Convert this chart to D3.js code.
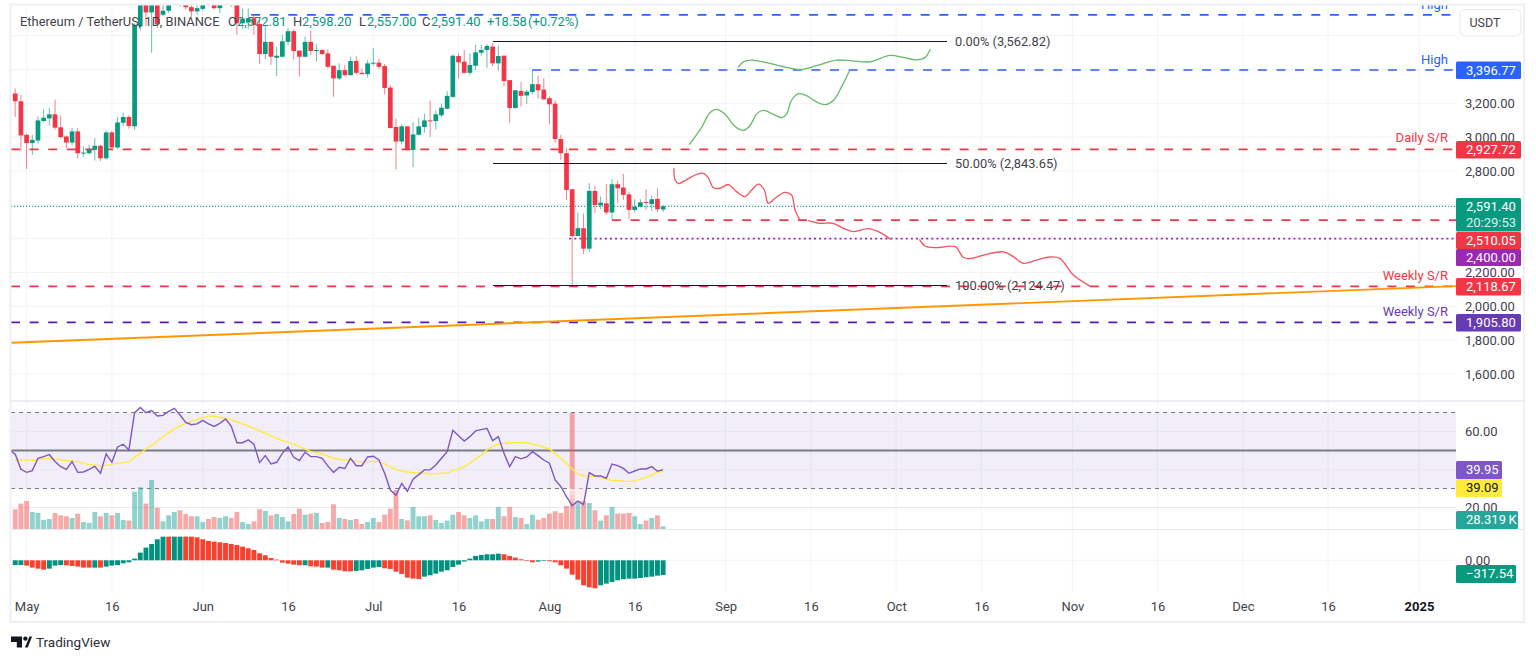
<!DOCTYPE html>
<html><head><meta charset="utf-8">
<script src="https://cdnjs.cloudflare.com/ajax/libs/d3/7.8.5/d3.min.js"></script>
<style>html,body{margin:0;padding:0;background:#fff;overflow:hidden}svg{display:block}text{font-family:Roboto,"Noto Sans",sans-serif}</style>
</head><body><svg id="c" width="1536" height="660"></svg>
<script>
// ---------- values ----------
const firstCandle = "2024-04-29";
const opens = [3258,3212,3014,2965,2980,3095,3111,3135,3058,3004,
2968,3034,2905,2905,2925,2949,2875,3028,2939,3085,
3119,3064,3654,3790,3737,3790,3723,3747,3825,3870,
3790,3768,3743,3758,3840,3790,3762,3800,3830,3800,
3673,3677,3703,3669,3491,3563,3469,3475,3563,3626,
3511,3475,3563,3509,3515,3495,3422,3347,3396,3366,
3450,3380,3372,3436,3440,3420,3293,3060,2974,3064,
2925,3014,3060,3099,3095,3129,3168,3238,3479,3446,
3380,3422,3499,3515,3535,3436,3481,3337,3172,3273,
3246,3267,3313,3281,3230,3198,2989,2905,2692,2416,
2462,2341,2682,2597,2609,2555,2722,2702,2662,2570,
2589,2617,2605,2635,2572.81];
const closes = [3212,3010,2965,2984,3099,3115,3135,3056,3000,2968,
3034,2905,2909,2925,2949,2875,3028,2939,3087,3119,
3066,3663,3820,3737,3785,3667,3747,3790,3860,3840,
3768,3743,3762,3790,3800,3762,3790,3830,3800,3673,
3700,3703,3663,3491,3563,3475,3481,3566,3626,3509,
3475,3563,3509,3515,3491,3416,3347,3396,3366,3450,
3380,3372,3436,3440,3416,3291,3054,2974,3064,2925,
3016,3064,3099,3095,3135,3174,3244,3481,3442,3380,
3426,3501,3515,3539,3436,3479,3331,3172,3277,3244,
3269,3313,3277,3224,3194,2989,2905,2688,2416,2462,
2341,2682,2599,2613,2555,2722,2698,2659,2570,2589,
2615,2613,2633,2574,2591.40];
const highs = [3287,3248,3020,3014,3123,3165,3172,3222,3129,3010,
3056,3054,2945,2955,2994,2955,3040,3036,3119,3145,
3129,3673,3860,3830,3830,3830,3790,3840,3890,3900,
3840,3790,3790,3830,3870,3830,3830,3860,3860,3830,
3760,3760,3720,3690,3663,3565,3535,3604,3644,3638,
3515,3594,3630,3549,3519,3519,3422,3436,3426,3475,
3479,3406,3456,3525,3465,3432,3307,3109,3079,3064,
3089,3115,3139,3218,3159,3198,3271,3489,3495,3515,
3495,3545,3545,3549,3555,3541,3485,3337,3277,3327,
3281,3398,3364,3347,3242,3218,3013,2935,2692,2556,
2550,2728,2712,2649,2722,2752,2742,2783,2678,2633,
2633,2692,2653,2698,2598.20];
const lows = [3119,2921,2812,2895,2961,3089,3069,3044,2992,2935,
2951,2875,2885,2897,2862,2858,2866,2921,2931,3064,
3050,3044,3630,3654,3499,3644,3713,3733,3790,3770,
3753,3709,3723,3745,3775,3755,3733,3780,3770,3604,
3640,3640,3604,3432,3460,3426,3361,3471,3545,3460,
3357,3471,3485,3446,3485,3406,3238,3337,3361,3364,
3368,3372,3353,3422,3402,3252,3050,2810,2957,2921,
2822,3010,3026,3000,3046,3119,3165,3232,3347,3376,
3366,3396,3481,3410,3420,3392,3301,3085,3168,3182,
3196,3254,3228,3218,3079,2968,2866,2629,2118,2416,
2309,2321,2550,2575,2541,2515,2609,2629,2517,2555,
2585,2570,2564,2558,2557.00];
const volumes = [209,269,297,181,170,96,106,170,145,135,
117,163,74,64,181,135,170,145,170,96,
89,396,443,269,520,227,81,145,181,198,
159,135,135,74,106,127,117,135,117,181,
74,53,81,209,191,145,159,127,81,159,
216,152,163,170,64,74,262,117,106,96,
106,53,74,117,74,152,216,414,106,92,
234,135,135,145,96,64,89,152,181,145,
117,145,81,106,106,234,135,234,127,117,
53,152,99,117,163,188,170,244,1230,297,
297,276,198,89,145,234,163,163,170,135,
53,89,117,145,28.319];
// RSI starts one day before the first candle
const rsi = [50.3,48.0,40.1,38.5,39.4,45.9,46.8,47.8,44.2,41.5,40.1,
44.2,38.5,38.7,40.1,41.7,38.0,48.2,43.8,51.9,53.3,
50.3,69.9,72.7,69.9,71.0,68.2,68.5,70.6,72.2,68.7,
64.8,63.6,64.0,65.9,64.0,62.7,64.3,66.6,62.9,54.1,
54.1,55.6,53.3,43.6,47.3,42.9,43.8,48.5,51.9,46.4,
44.7,49.1,46.8,46.8,45.9,41.9,38.4,41.2,40.5,45.9,
42.0,42.0,46.6,47.0,45.0,38.0,29.2,26.4,32.7,28.5,
34.9,37.3,39.8,39.8,42.4,45.9,49.4,60.6,57.8,55.0,
57.3,60.3,61.0,61.7,55.2,57.3,48.5,41.5,46.8,45.6,
46.6,49.4,47.3,45.0,43.3,34.5,31.0,25.7,21.0,23.4,
21.5,38.4,36.6,36.6,35.4,42.9,42.0,40.6,38.0,39.2,
40.3,40.3,41.5,39.1,39.95];
const rsiMA = [45.0,45.0,45.0,44.9,45.0,45.6,45.7,45.6,45.0,44.7,
44.5,44.0,43.3,42.7,42.2,42.0,42.2,42.7,43.3,43.6,
44.0,46.4,48.5,50.8,52.7,54.9,57.3,59.4,61.2,62.9,
64.3,65.4,66.4,67.3,68.2,68.0,67.5,67.0,66.1,65.0,
64.0,62.9,61.7,60.3,59.1,57.7,56.4,55.2,54.3,53.4,
52.0,50.8,49.4,48.9,48.2,47.1,45.9,45.4,45.0,44.9,
44.3,44.0,44.2,44.3,44.0,42.9,41.2,40.1,39.2,38.7,
38.4,38.2,38.0,37.8,37.7,38.0,38.2,39.4,40.3,41.5,
43.3,45.6,47.7,50.3,52.0,53.4,53.8,54.1,54.1,54.3,
54.1,53.4,52.6,51.7,50.8,48.5,45.9,43.3,40.1,37.7,
36.8,36.6,36.3,35.7,34.9,34.3,34.2,33.8,33.6,34.0,
34.9,35.9,37.1,38.5,39.09];
const macdHist = [-101,-101,-115,-158,-180,-202,-180,-115,-101,-108,
-122,-137,-158,-158,-158,-158,-137,-115,-101,-65,
-43,36,166,274,353,454,511,511,511,511,
511,511,497,454,418,403,389,374,353,331,
295,259,223,151,108,50,14,-50,-72,-94,
-108,-108,-130,-137,-158,-158,-202,-216,-238,-238,
-230,-216,-187,-158,-144,-173,-187,-245,-295,-374,
-396,-403,-353,-324,-288,-245,-216,-144,-94,-29,
36,94,115,130,130,144,130,94,58,22,
-14,-43,-29,-14,-22,-43,-108,-180,-310,-418,
-540,-583,-605,-540,-504,-468,-432,-410,-396,-396,
-382,-367,-353,-331,-317.54];
const macdShade = "ttrrrrtttr"+"rrrrtrtttt"+"tttttttrtt"+"rrrrrrrrrr"+"rrrrrrrrrr"+"rtrrrtrrrr"+"tttttrrrrr"+"rrtttttttt"+"ttttttrrrr"+"rrttrrrrrr"+"rrrttttttt"+"ttttt";

const fibLevels = [3562.82, 2843.65, 2124.47];
const fibLabels = ["0.00% (3,562.82)","50.00% (2,843.65)","100.00% (2,124.47)"];
const levelHighTop = 3722.6, levelHigh = 3396.77, levelDaily = 2927.72, levelNear = 2510.05, levelDotted = 2400, levelWeekly = 2118.67, levelWeekly2 = 1905.80, lastPrice = 2591.40;

const priceTicks = [1600,1800,2000,2200,2400,2600,2800,3000,3200,3400];
const priceGrid = [1600,1800,2000,2200,2400,2600,2800,3000,3200,3400,3600];
const timeTicks = ["2024-05-01","2024-05-16","2024-06-01","2024-06-16","2024-07-01","2024-07-16","2024-08-01","2024-08-16","2024-09-01","2024-09-16","2024-10-01","2024-10-16","2024-11-01","2024-11-16","2024-12-01","2024-12-16","2025-01-01"];
const timeLabels = ["May","16","Jun","16","Jul","16","Aug","16","Sep","16","Oct","16","Nov","16","Dec","16","2025"];
const rsiTicks = [60,20];

// trend line: [days after May 1, price]
const trendLine = [[-2.7,1785],[251.5,2120]];
// hand-drawn projections: [days after May 1, price]
const greenA = [[116.6,2956],[118.8,3059],[120.2,3143],[121.4,3164],[122.9,3135],[124.6,3065],[126.1,3040],[127.3,3069],[128.5,3139],[129.6,3158],[131.4,3135],[132.9,3115],[133.7,3135],[134.6,3218],[135.8,3257],[137.3,3244],[139.0,3208],[140.5,3192],[142.0,3218],[143.4,3297],[144.9,3400]];
const greenB = [[125.2,3412],[126.1,3445],[127.6,3455],[130.2,3440],[133.2,3416],[136.1,3400],[139.0,3422],[142.5,3455],[145.2,3451],[148.4,3445],[151.9,3483],[154.3,3471],[156.6,3457],[158.1,3471],[159.0,3519]];
const redA = [[113.9,2816],[114.1,2748],[114.7,2726],[116.1,2748],[117.9,2780],[119.1,2786],[120.0,2757],[120.8,2702],[122.0,2698],[123.5,2720],[124.9,2678],[126.4,2649],[127.6,2688],[128.8,2722],[129.8,2688],[130.5,2609],[131.7,2639],[133.4,2674],[134.6,2658],[135.2,2570],[136.0,2515]];
const redB = [[137.5,2507],[139.6,2491],[141.9,2491],[143.7,2462],[145.5,2442],[148.1,2459],[150.2,2436],[152.0,2396]];
const redC = [[157.1,2396],[158.1,2357],[160.1,2347],[163.4,2353],[164.8,2290],[166.0,2282],[168.9,2308],[171.9,2322],[173.6,2294],[175.4,2255],[177.7,2274],[180.1,2292],[181.8,2284],[184.2,2185],[187.1,2120]];

// ---------- layout ----------
const paneL=11, paneR=1456, frameR=1524, paneT=5, mainB=401, rsiB=529.5, macdB=592.7, frameB=622;
const GREEN="#089981", RED="#f23645", BLUE="#2962ff", GRID="#f2f3f7";
const TEXT="#3f424b";
const svg=d3.select("#c");
const dayMs=864e5, t0=Date.UTC(2024,4,1);
const x=d3.scaleUtc().domain([new Date("2024-05-01"),new Date("2025-01-01")]).range([26.6,1419]);
const xd=n=>x(new Date(t0+n*dayMs));
const candleDate=i=>new Date(new Date(firstCandle).getTime()+i*dayMs);
const y=d3.scaleLinear().domain([1600,3200]).range([374.1,103.3]);
const yR=d3.scaleLinear().domain([0,80]).range([545.5,393.5]);
const yV=d3.scaleLinear().domain([0,1230]).range([529,413]);
const yM=d3.scaleLinear().domain([-700,700]).range([592.7,527.9]);

const defs=svg.append("defs");
const addClip=(id,x0,y0,x1,y1)=>defs.append("clipPath").attr("id",id).append("rect").attr("x",x0).attr("y",y0).attr("width",x1-x0).attr("height",y1-y0);
addClip("cMain",paneL,paneT,paneR,mainB); addClip("cRsi",paneL,mainB+.5,paneR,rsiB); addClip("cMacd",paneL,rsiB,paneR,macdB);
const g0=defs.append("linearGradient").attr("id","fade").attr("x1",0).attr("x2",0).attr("y1",0).attr("y2",1);
g0.append("stop").attr("offset",0).attr("stop-color","#ffe9ea").attr("stop-opacity",.95);
g0.append("stop").attr("offset",1).attr("stop-color","#ffe9ea").attr("stop-opacity",0);

// vertical grid in all panes
const vgrid=svg.append("g").attr("stroke",GRID).attr("stroke-width",1);
timeTicks.forEach(d=>vgrid.append("line").attr("x1",x(new Date(d))).attr("x2",x(new Date(d))).attr("y1",paneT).attr("y2",macdB));

// main pane
const mainPane=svg.append("g").attr("clip-path","url(#cMain)");
mainPane.append("g").selectAll("line").data(priceGrid).join("line").attr("x1",paneL).attr("x2",paneR).attr("y1",d=>y(d)).attr("y2",d=>y(d)).attr("stroke",GRID);

const hline=(v,x0,color,dash,w)=>mainPane.append("line").attr("x1",x0).attr("x2",paneR).attr("y1",y(v)).attr("y2",y(v)).attr("stroke",color).attr("stroke-width",w).attr("stroke-dasharray",dash);
hline(lastPrice,paneL,"#26a69a","1.2,1.8",1.2);
hline(levelHighTop,xd(39.5),BLUE,"9,9.6",1.7);
hline(levelHigh,xd(89),BLUE,"9,9.6",1.7);
hline(levelDaily,paneL,RED,"9,9.6",1.7);
hline(levelNear,xd(103),RED,"9,9.6",1.7);
hline(levelDotted,xd(96)-3,"#9c27b0","2,3.1",1.8);
hline(levelWeekly,paneL,RED,"9,9.6",1.7);
hline(levelWeekly2,paneL,"#5a1ab5","9,9.6",1.7);

// candles
const nBars=opens.length, bw=4.7;
const cg=mainPane.append("g");
d3.range(nBars).forEach(i=>{
  const cx=x(candleDate(i)), up=closes[i]>=opens[i], col=up?GREEN:RED;
  cg.append("line").attr("x1",cx).attr("x2",cx).attr("y1",y(highs[i])).attr("y2",y(lows[i])).attr("stroke",col).attr("stroke-width",1).attr("opacity",.62);
  const a=y(Math.max(opens[i],closes[i])), b=y(Math.min(opens[i],closes[i]));
  cg.append("rect").attr("x",cx-bw/2).attr("y",a).attr("width",bw).attr("height",Math.max(b-a,1)).attr("fill",col);
});

// fib lines
fibLevels.forEach((v,i)=>{
  mainPane.append("line").attr("x1",xd(82)).attr("x2",947).attr("y1",y(v)).attr("y2",y(v)).attr("stroke","#131722").attr("stroke-width",1).attr("shape-rendering","crispEdges");
  mainPane.append("text").attr("x",955).attr("y",y(v)+4.5).attr("font-size",12.8).attr("fill",TEXT).text(fibLabels[i]);
});

// trend line and projections
const ln=d3.line().x(d=>xd(d[0])).y(d=>y(d[1]));
mainPane.append("path").attr("d",ln(trendLine)).attr("fill","none").attr("stroke","#ff9800").attr("stroke-width",1.9);
const cv=d3.line().x(d=>xd(d[0])).y(d=>y(d[1])).curve(d3.curveCatmullRom.alpha(.5));
[greenA,greenB].forEach(p=>mainPane.append("path").attr("d",cv(p)).attr("fill","none").attr("stroke","#66bb6a").attr("stroke-width",1.3));
[redA,redB,redC].forEach(p=>mainPane.append("path").attr("d",cv(p)).attr("fill","none").attr("stroke","#f7525f").attr("stroke-width",1.3));

// level captions
const cap=(t,yy,c)=>svg.append("text").attr("x",1448).attr("y",yy).attr("text-anchor","end").attr("font-size",13).attr("fill",c).text(t);
svg.append("g").attr("clip-path","url(#cMain)").append("text").attr("x",1448).attr("y",y(levelHighTop)-6).attr("text-anchor","end").attr("font-size",13).attr("fill",BLUE).text("High");
cap("High",y(levelHigh)-6,BLUE);
cap("Daily S/R",y(levelDaily)-7,RED);
cap("Weekly S/R",y(levelWeekly)-6.5,RED);
cap("Weekly S/R",y(levelWeekly2)-6,"#673ab7");

// RSI pane
const rp=svg.append("g").attr("clip-path","url(#cRsi)");
rp.append("rect").attr("x",paneL).attr("width",paneR-paneL).attr("y",yR(70)).attr("height",yR(30)-yR(70)).attr("fill","#7e57c2").attr("opacity",.1);
rp.append("g").selectAll("line").data([60,40,20]).join("line").attr("x1",paneL).attr("x2",paneR).attr("y1",d=>yR(d)).attr("y2",d=>yR(d)).attr("stroke","#e9e7f2");
[70,30].forEach(v=>rp.append("line").attr("x1",paneL).attr("x2",paneR).attr("y1",yR(v)).attr("y2",yR(v)).attr("stroke","#787b86").attr("stroke-width",1).attr("stroke-dasharray","4,4"));
rp.append("line").attr("x1",paneL).attr("x2",paneR).attr("y1",yR(50)).attr("y2",yR(50)).attr("stroke","#787b86").attr("stroke-width",1.8);
// volume
rp.append("g").selectAll("rect").data(volumes).join("rect")
  .attr("x",(d,i)=>x(candleDate(i))-bw/2-.1).attr("width",bw+.2).attr("y",d=>yV(d)).attr("height",d=>yV(0)-yV(d))
  .attr("fill",(d,i)=>closes[i]>=opens[i]?"#26a69a":"#ef5350").attr("opacity",.5);
rp.append("rect").attr("x",x(candleDate(98))-3.2).attr("width",x(candleDate(101))-x(candleDate(98))+1.2).attr("y",yR(30)).attr("height",yR(20.3)-yR(30)).attr("fill","url(#fade)");
// RSI lines
const lr=d3.line().x((d,i)=>x(candleDate(i-1))).y(d=>yR(d));
const lm=d3.line().x((d,i)=>x(candleDate(i))).y(d=>yR(d));
rp.append("path").attr("d",lm(rsiMA)).attr("fill","none").attr("stroke","#ffeb3b").attr("stroke-width",1.4);
rp.append("path").attr("d",lr(rsi)).attr("fill","none").attr("stroke","#7e57c2").attr("stroke-width",1.4);

// MACD pane
const mp=svg.append("g").attr("clip-path","url(#cMacd)");
mp.append("line").attr("x1",paneL).attr("x2",paneR).attr("y1",yM(0)).attr("y2",yM(0)).attr("stroke",GRID);
mp.append("g").selectAll("rect").data(macdHist).join("rect")
  .attr("x",(d,i)=>x(candleDate(i))-bw/2-.1).attr("width",bw+.2)
  .attr("y",d=>Math.min(yM(d),yM(0))).attr("height",d=>Math.abs(yM(d)-yM(0)))
  .attr("fill",(d,i)=>macdShade[i]==="t"?"#00917f":"#f9402f");

// frame and separators
svg.append("rect").attr("x",10.5).attr("y",4.5).attr("width",frameR-10.5).attr("height",frameB-4.5).attr("fill","none").attr("stroke","#eef0f6").attr("stroke-width",2);
svg.append("line").attr("x1",paneL).attr("x2",frameR).attr("y1",mainB).attr("y2",mainB).attr("stroke","#e6e8ef").attr("stroke-width",1.5);
svg.append("line").attr("x1",paneL).attr("x2",frameR).attr("y1",rsiB).attr("y2",rsiB).attr("stroke","#e6e8ef").attr("stroke-width",1.2);

// header legend
const head=svg.append("g").attr("font-size",12.9);
const ht=(xx,t,c)=>head.append("text").attr("x",xx).attr("y",26).attr("fill",c).text(t);
ht(20,"Ethereum / TetherUS, 1D, BINANCE",TEXT);
ht(228,"O",TEXT); ht(237,"2,572.81",GREEN);
ht(293,"H",TEXT); ht(302,"2,598.20",GREEN);
ht(359,"L",TEXT); ht(367,"2,557.00",GREEN);
ht(422,"C",TEXT); ht(431,"2,591.40",GREEN);
ht(487,"+18.58",GREEN); ht(528,"(+0.72%)",GREEN);

// price axis
const axP=d3.axisRight(y).tickValues(priceTicks).tickSize(0).tickPadding(0).tickFormat(d3.format(",.2f"));
const gp=svg.append("g").attr("transform","translate(1465,0)").call(axP);
gp.select(".domain").remove();
gp.selectAll("text").attr("font-size",13).attr("fill",TEXT).attr("font-family","Roboto");
const axR=d3.axisRight(yR).tickValues(rsiTicks).tickSize(0).tickPadding(0).tickFormat(d3.format(".2f"));
const gr=svg.append("g").attr("transform","translate(1465,0)").call(axR);
gr.select(".domain").remove();
gr.selectAll("text").attr("font-size",13).attr("fill",TEXT).attr("font-family","Roboto");
const axM=d3.axisRight(yM).tickValues([0]).tickSize(0).tickPadding(0).tickFormat(d3.format(".2f"));
const gm=svg.append("g").attr("transform","translate(1465,0)").call(axM);
gm.select(".domain").remove();
gm.selectAll("text").attr("font-size",13).attr("fill",TEXT).attr("font-family","Roboto");

// time axis
const axT=d3.axisBottom(x).tickValues(timeTicks.map(d=>new Date(d))).tickSize(0).tickPadding(0).tickFormat((d,i)=>timeLabels[i]);
const gt=svg.append("g").attr("transform","translate(0,602)").call(axT);
gt.select(".domain").remove();
gt.selectAll("text").attr("font-size",13).attr("fill",TEXT).attr("font-family","Roboto")
  .attr("font-weight",(d,i)=>timeLabels[i]==="2025"?700:400).attr("fill",(d,i)=>timeLabels[i]==="2025"?"#131722":TEXT);

// USDT button
svg.append("rect").attr("x",1460).attr("y",9.5).attr("width",61).attr("height",26.5).attr("rx",5).attr("fill","#fff").attr("stroke","#e6e8ef");
svg.append("text").attr("x",1469.5).attr("y",27).attr("font-size",12.5).attr("fill",TEXT).text("USDT");

// value tags
const tag=(yTop,h,w,fill,lines,tc)=>{
  svg.append("rect").attr("x",1456).attr("y",yTop).attr("width",w).attr("height",h).attr("rx",1.5).attr("fill",fill);
  lines.forEach((t,i)=>svg.append("text").attr("x",1466).attr("y",yTop+13.3+i*16).attr("font-size",13).attr("fill",tc||"#fff").attr("opacity",i?0.85:1).text(t));
};
tag(61.5,17.5,65,BLUE,["3,396.77"]);
tag(141,17.5,65,RED,["2,927.72"]);
tag(198,33.5,65,GREEN,["2,591.40","20:29:53"]);
tag(232,17,65,RED,["2,510.05"]);
tag(249,17,65,"#9c27b0",["2,400.00"]);
tag(278,17.5,65,RED,["2,118.67"]);
tag(314,17.5,65,"#673ab7",["1,905.80"]);
tag(461,18,46,"#7e57c2",["39.95"]);
tag(479,18,46,"#ffeb3b",["39.09"],"#131722");
tag(511,18,62,"#26a69a",["28.319\u2009K"]);
tag(565,18,60,GREEN,["\u2212317.54"]);

// TradingView mark
svg.append("path").attr("fill","#131722").attr("d","M11 636.5h11v11h-5.2v-5.6H11z");
svg.append("circle").attr("cx",25.4).attr("cy",638.6).attr("r",2.2).attr("fill","#131722");
svg.append("path").attr("fill","#131722").attr("d","M25 647.5l4.5-11h2.6l-4.4 11z");
svg.append("text").attr("x",36).attr("y",647).attr("font-size",13.5).attr("fill","#2a2e39").text("TradingView");
</script></body></html>
